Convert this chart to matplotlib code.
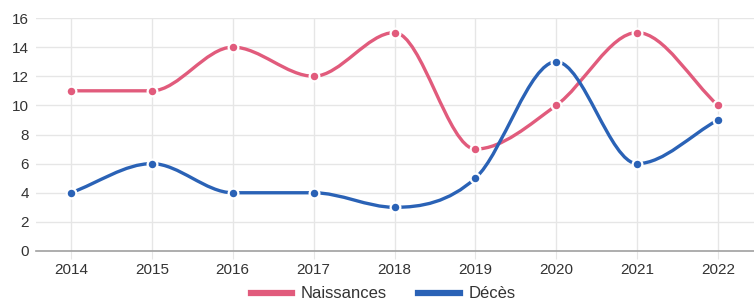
import numpy as np
import matplotlib
matplotlib.use("Agg")
import matplotlib.pyplot as plt
from matplotlib.path import Path
from matplotlib.patches import PathPatch
from matplotlib.lines import Line2D

plt.rcParams['font.family'] = ['Liberation Sans', 'DejaVu Sans']

years = ['2014', '2015', '2016', '2017', '2018', '2019', '2020', '2021', '2022']
naissances = [11, 11, 14, 12, 15, 7, 10, 15, 10]
deces = [4, 6, 4, 4, 3, 5, 13, 6, 9]

pink = '#e15b7c'
blue = '#2a62b6'

W, H = 754, 305
fig = plt.figure(figsize=(W / 100, H / 100), dpi=100)
ax = fig.add_axes([36 / W, 1 - 251 / H, 1 - 36 / W, (251 - 18) / H])


def monotone_path(xs, ys):
    # monotone cubic (Fritsch-Carlson) as bezier segments
    x = np.array(xs, float)
    y = np.array(ys, float)
    n = len(x)
    dx = np.diff(x)
    delta = np.diff(y) / dx
    m = np.zeros(n)
    m[0] = delta[0]
    m[-1] = delta[-1]
    for i in range(1, n - 1):
        if delta[i - 1] * delta[i] > 0:
            m[i] = (delta[i - 1] + delta[i]) / 2
    for i in range(n - 1):
        if delta[i] == 0:
            m[i] = m[i + 1] = 0
            continue
        a = m[i] / delta[i]
        b = m[i + 1] / delta[i]
        s = a * a + b * b
        if s > 9:
            t = 3 / np.sqrt(s)
            m[i] = t * a * delta[i]
            m[i + 1] = t * b * delta[i]
    verts = [(x[0], y[0])]
    codes = [Path.MOVETO]
    for i in range(n - 1):
        h = dx[i] / 3
        verts += [(x[i] + h, y[i] + h * m[i]), (x[i + 1] - h, y[i + 1] - h * m[i + 1]),
                  (x[i + 1], y[i + 1])]
        codes += [Path.CURVE4] * 3
    return Path(verts, codes)


xs = np.arange(len(years))
for vals, col in [(naissances, pink), (deces, blue)]:
    ax.add_patch(PathPatch(monotone_path(xs, vals), facecolor='none', edgecolor=col,
                           lw=2.4, zorder=3, capstyle='round'))
    ax.plot(xs, vals, 'o', color=col, ms=7, mec='white', mew=1.6, zorder=4)

x_px = 80.875
ax.set_xlim((36 - 71) / x_px, (754 - 71) / x_px)
ax.set_ylim(0, 16)
ax.set_yticks(range(0, 17, 2))
ax.set_xticks(xs)
ax.set_xticklabels(years)
ax.grid(True, color='#e6e6e6', lw=1)
ax.set_axisbelow(True)
for s in ['top', 'right', 'left']:
    ax.spines[s].set_visible(False)
ax.spines['bottom'].set_color('#a0a0a0')
ax.spines['bottom'].set_linewidth(1.2)
ax.tick_params(axis='y', length=0, pad=5, labelsize=11, colors='#333333')
ax.tick_params(axis='x', length=6, color='#e6e6e6', pad=3, labelsize=11, colors='#333333')

handles = [Line2D([], [], color=pink, lw=4.5), Line2D([], [], color=blue, lw=4.5)]
fig.legend(handles, ['Naissances', 'Décès'], loc='center', bbox_to_anchor=(383 / W, 1 - 294 / H),
           ncol=2, frameon=False, fontsize=12, handlelength=2.5, columnspacing=1.9,
           handletextpad=0.5, labelcolor='#333333')

fig.savefig('out.png', dpi=100)
